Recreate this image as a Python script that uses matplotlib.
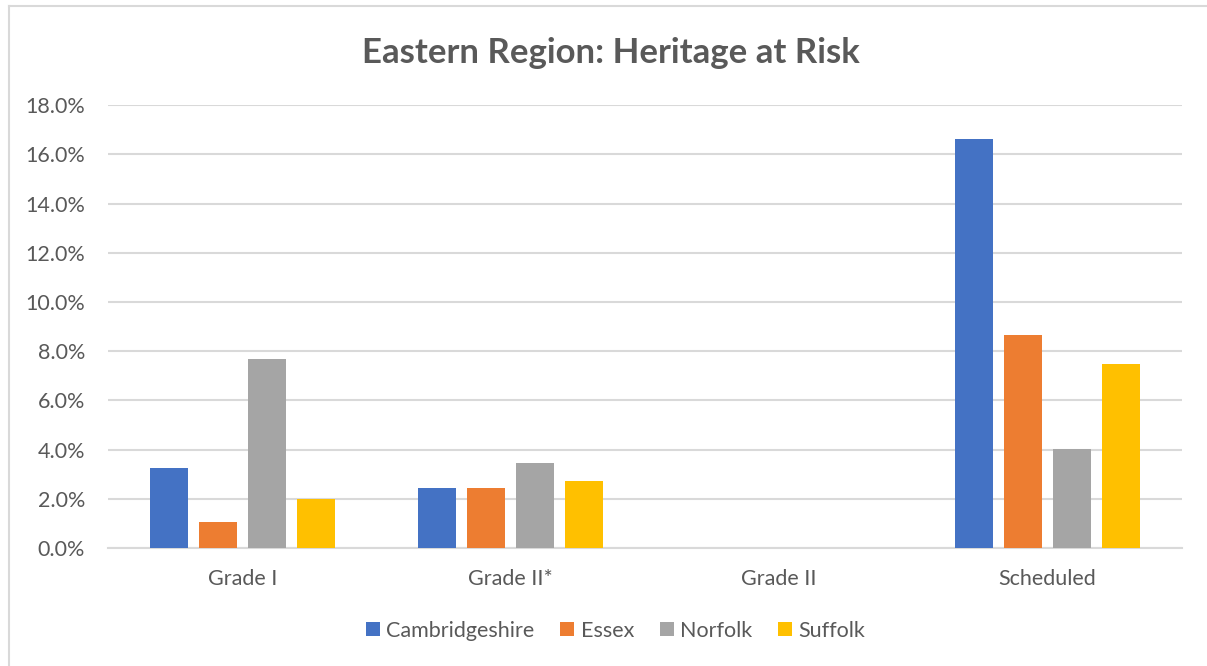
import numpy as np
import matplotlib.pyplot as plt
from matplotlib.lines import Line2D

# Dados do gráfico
categorias = ['Grade I', 'Grade II*', 'Grade II', 'Scheduled']
condados = ['Cambridgeshire', 'Essex', 'Norfolk', 'Suffolk']
cambridgeshire = [3.27, 2.45, 0.0, 16.61]
essex = [1.07, 2.45, 0.0, 8.67]
norfolk = [7.69, 3.47, 0.0, 4.02]
suffolk = [2.0, 2.74, 0.0, 7.48]
cores = ['#4472C4', '#ED7D31', '#A5A5A5', '#FFC000']

plt.rcParams['font.family'] = ['Lato', 'DejaVu Sans']
texto = '#595959'
grade = '#d9d9d9'

fig = plt.figure(figsize=(12.07, 6.66), dpi=100)
ax = fig.add_axes([0.0895, 0.177, 0.8895, 0.665])

x = np.arange(len(categorias))
largura = 0.1415
passo = 0.1825
series = [cambridgeshire, essex, norfolk, suffolk]
for i, (nome, vals) in enumerate(zip(condados, series)):
    ax.bar(x + (i - 1.5) * passo, vals, largura, color=cores[i], label=nome,
           zorder=3)

ax.set_xlim(-0.5, 3.5)
ax.set_ylim(0, 18)
ax.set_yticks(np.arange(0, 18.1, 2))
ax.set_yticklabels([f'{v:.1f}%' for v in np.arange(0, 18.1, 2)])
ax.set_xticks(x)
ax.set_xticklabels(categorias)
ax.yaxis.grid(True, color=grade, linewidth=1.5, zorder=0)
ax.tick_params(axis='both', length=0, labelsize=15.5, colors=texto)
ax.tick_params(axis='x', pad=15)
ax.tick_params(axis='y', pad=16.5)
for s in ['top', 'right', 'left']:
    ax.spines[s].set_visible(False)
ax.spines['bottom'].set_color(grade)
ax.spines['bottom'].set_linewidth(1.5)

fig.text(0.506, 0.921, 'Eastern Region: Heritage at Risk', ha='center',
         va='center', fontsize=25, fontweight='bold', color=texto)

fig.legend(loc='center', bbox_to_anchor=(0.51, 0.053), ncol=4, frameon=False,
           fontsize=15.5, labelcolor=texto, handlelength=0.65, handleheight=0.65,
           handletextpad=0.3, columnspacing=1.2)

# moldura do gráfico
fig.add_artist(Line2D([9 / 1207, 9 / 1207], [0, 1 - 6 / 666], color=grade,
                      linewidth=1.5, transform=fig.transFigure))
fig.add_artist(Line2D([9 / 1207, 1], [1 - 6 / 666, 1 - 6 / 666], color=grade,
                      linewidth=1.5, transform=fig.transFigure))

fig.savefig('out.png', dpi=100)
